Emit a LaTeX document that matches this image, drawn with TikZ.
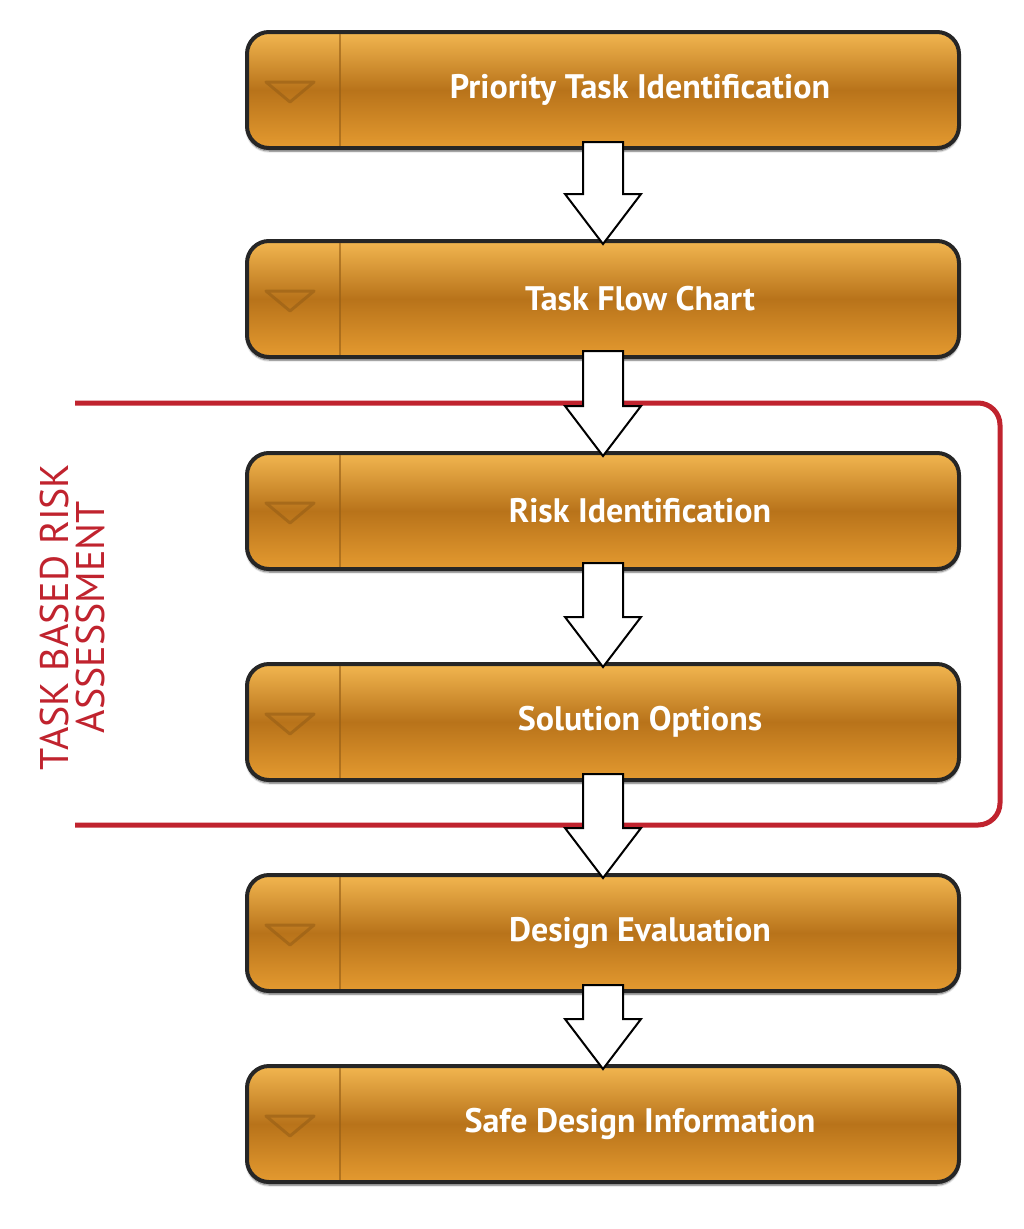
\documentclass[tikz,border=0pt]{standalone}
\usepackage{fontspec}
\setmainfont{PT Sans}
\usetikzlibrary{shadows.blur}
\definecolor{oLight}{HTML}{F2B650}
\definecolor{oDark}{HTML}{B8731A}
\definecolor{oMid}{HTML}{E49A30}
\definecolor{redline}{HTML}{C0232E}
\begin{document}
\begin{tikzpicture}[x=1pt,y=-1pt,
  btn/.style={draw=black!85,line width=4pt,rounded corners=22pt,minimum width=712pt,minimum height=116pt,
    top color=oLight,bottom color=oMid,middle color=oDark,
    blur shadow={shadow blur steps=8,shadow xshift=0pt,shadow yshift=-3pt,shadow opacity=60},
    inner sep=0pt},
  arr/.style={draw=black,line width=2pt,fill=white,line join=miter}]
\useasboundingbox (0,0) rectangle (1024,1229);
\foreach \n/\y/\t in {a/90/Priority Task Identification,b/299/Task Flow Chart,c/511/Risk Identification,d/722/Solution Options,e/933/Design Evaluation,f/1124/Safe Design Information}{
  \node[btn] (\n) at (603,\y) {};
  \node[text=white,font=\bfseries\fontsize{34}{40}\selectfont] (\n t) at (640,\y) {\t};
  \draw[oDark!80!black,line width=2pt,opacity=.6] (340,\y-56) -- (340,\y+56);
  \draw[oDark!80!black,line width=3pt,opacity=.55,line join=round] (266,\y-8) -- (314,\y-8) -- (290,\y+12) -- cycle;
}
\draw[redline,line width=5pt,rounded corners=22pt] (75,403) -- (1000,403) -- (1000,825) -- (75,825);
\node[redline,rotate=90,align=center,font=\fontsize{40}{36}\selectfont] (lbl) at (72,617) {TASK BASED RISK\\ASSESSMENT};
\foreach \s/\e in {a/b,b/c,c/d,d/e,e/f}{
  \path (\s.south) ++(0,-8) coordinate (\s top);
  \path (\e.north) ++(0,5) coordinate (\e tip);
  \draw[arr] ([xshift=-20pt]\s top) -- ([xshift=-20pt,yshift=50pt]\e tip) -- ([xshift=-38pt,yshift=50pt]\e tip)
     -- (\e tip) -- ([xshift=38pt,yshift=50pt]\e tip) -- ([xshift=20pt,yshift=50pt]\e tip) -- ([xshift=20pt]\s top) -- cycle;
}
\end{tikzpicture}
\end{document}
